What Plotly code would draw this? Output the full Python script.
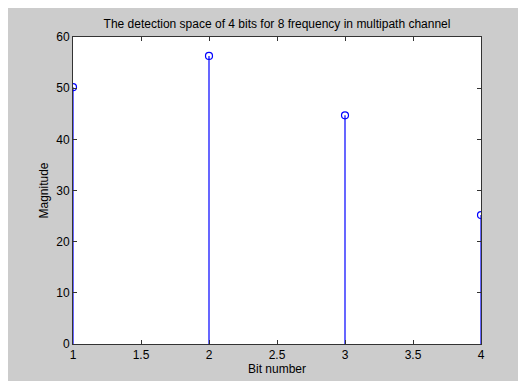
import plotly.graph_objects as go

bits = [1, 2, 3, 4]
magnitude = [50.2, 56.3, 44.7, 25.2]
x_ticks = [1, 1.5, 2, 2.5, 3, 3.5, 4]
y_ticks = [0, 10, 20, 30, 40, 50, 60]

stem_x, stem_y = [], []
for b, m in zip(bits, magnitude):
    stem_x += [b, b, None]
    stem_y += [0, m, None]

fig = go.Figure()
fig.add_trace(go.Scatter(x=stem_x, y=stem_y, mode="lines",
                         line=dict(color="#0000ff", width=1.2),
                         hoverinfo="skip", showlegend=False))
fig.add_trace(go.Scatter(x=bits, y=magnitude, mode="markers",
                         marker=dict(symbol="circle-open", size=7,
                                     color="#0000ff", line=dict(width=1.2)),
                         showlegend=False))

font = dict(family="Liberation Sans, Arial, sans-serif", size=12, color="#000000")
axis_common = dict(showgrid=False, zeroline=False, showline=True, automargin=False,
                   linecolor="#333333", linewidth=1, mirror="ticks",
                   ticks="inside", ticklen=4, tickcolor="#333333",
                   tickfont=font)

W, H = 518, 373
L, R, T, B = 65, 45, 29, 37

fig.update_layout(
    template="none",
    width=W, height=H,
    paper_bgcolor="#cccccc", plot_bgcolor="#ffffff",
    margin=dict(l=L, r=R, t=T, b=B),
    font=font,
    title=dict(text="The detection space of 4 bits for 8 frequency in multipath channel",
               x=(L + (W - R)) / 2 / W, xanchor="center", y=1 - 15.5 / H, yanchor="middle",
               font=font),
    xaxis=dict(range=[1, 4], tickvals=x_ticks, ticktext=[str(t) for t in x_ticks],
               title=dict(text="Bit number", standoff=3, font=font), **axis_common),
    yaxis=dict(range=[0, 60], tickvals=y_ticks,
               title=dict(text="Magnitude", standoff=5, font=font), **axis_common),
)

fig.write_html("out.html")
